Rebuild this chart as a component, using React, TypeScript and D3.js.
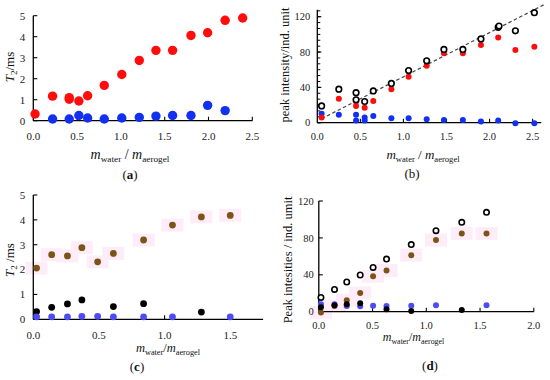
import React from 'react';
import * as d3 from 'd3';

// ---------- Data ----------
// (a) T2 vs mass ratio
const A_RED_X = [0.02, 0.22, 0.41, 0.41, 0.52, 0.62, 0.81, 1.01, 1.21, 1.40, 1.59, 1.80, 1.99, 2.19, 2.39];
const A_RED_Y = [0.32, 1.17, 1.10, 1.02, 0.94, 1.19, 1.68, 2.20, 2.87, 3.35, 3.35, 4.06, 4.19, 4.78, 4.89];
const A_BLUE_X = [0.22, 0.41, 0.52, 0.62, 0.81, 1.01, 1.21, 1.40, 1.59, 1.80, 1.99, 2.19];
const A_BLUE_Y = [0.08, 0.08, 0.25, 0.13, 0.08, 0.13, 0.16, 0.22, 0.25, 0.25, 0.73, 0.48];
const A_X_TICKS = [0, 0.5, 1.0, 1.5, 2.0, 2.5];
const A_Y_TICKS = [0, 1, 2, 3, 4, 5];

// (b) peak intensity vs mass ratio
const B_OPEN_X = [0.05, 0.25, 0.45, 0.45, 0.55, 0.65, 0.86, 1.06, 1.27, 1.47, 1.69, 1.90, 2.10, 2.11, 2.30, 2.52];
const B_OPEN_Y = [19, 38, 34, 26, 24, 36, 44.5, 59, 70, 83, 83, 94.8, 108, 109.5, 104, 124.6];
const B_RED_X = [0.05, 0.25, 0.45, 0.45, 0.55, 0.65, 0.86, 1.06, 1.27, 1.47, 1.69, 1.90, 2.10, 2.30, 2.52];
const B_RED_Y = [6, 27, 24, 19, 17, 24.5, 38, 52, 64.5, 78.5, 78.5, 88, 96.5, 82.3, 86];
const B_BLUE_X = [0.05, 0.25, 0.45, 0.45, 0.55, 0.55, 0.65, 0.86, 1.06, 1.27, 1.47, 1.69, 1.90, 2.10, 2.30, 2.52];
const B_BLUE_Y = [10, 9, 9, 2.5, 6, 2.5, 7.5, 5, 5, 4, 3, 3, 1.5, 2.5, -0.5, -0.5];
const B_FIT_X = [0.05, 2.63];
const B_FIT_SLOPE = 50;
const B_FIT_INTERCEPT = 2;
const B_X_TICKS = [0, 0.5, 1.0, 1.5, 2.0, 2.5];
const B_Y_TICKS = [0, 40, 80, 120];

// (c) T2 vs mass ratio
const C_BROWN_X = [0.025, 0.14, 0.26, 0.37, 0.49, 0.61, 0.84, 1.06, 1.28, 1.50];
const C_BROWN_Y = [2.06, 2.6, 2.55, 2.88, 2.31, 2.65, 3.19, 3.79, 4.12, 4.18];
const C_BLACK_X = [0.025, 0.14, 0.26, 0.37, 0.61, 0.84, 1.28];
const C_BLACK_Y = [0.31, 0.48, 0.62, 0.78, 0.51, 0.63, 0.29];
const C_BLUE_X = [0.025, 0.14, 0.26, 0.37, 0.49, 0.61, 0.84, 1.06, 1.50];
const C_BLUE_Y = [0.1, 0.1, 0.1, 0.12, 0.12, 0.1, 0.1, 0.1, 0.1];
const C_X_TICKS = [0, 0.5, 1.0, 1.5];
const C_Y_TICKS = [0, 1, 2, 3, 4, 5];

// (d) peak intensities vs mass ratio
const D_X = [0.02, 0.146, 0.26, 0.385, 0.505, 0.63, 0.86, 1.09, 1.33, 1.56];
const D_OPEN_Y = [15.5, 24.2, 32.2, 39.8, 48, 57, 72.8, 87.8, 96.9, 107.7];
const D_BROWN_Y = [-0.8, 6.2, 12.5, 20.4, 38.3, 44.7, 61.3, 77.7, 84.9, 84.9];
const D_BLUE_X = [0.02, 0.146, 0.26, 0.385, 0.505, 0.63, 0.86, 1.09, 1.56];
const D_BLUE_Y = [8, 8, 6.2, 5.9, 6.5, 6.2, 6.5, 6.9, 6.9];
const D_BLACK_X = [0.02, 0.146, 0.26, 0.385, 0.63, 0.86, 1.33];
const D_BLACK_Y = [4.8, 7, 8, 9.1, 2.6, 0.8, 1.8];
const D_X_TICKS = [0, 0.5, 1.0, 1.5, 2.0];
const D_Y_TICKS = [0, 40, 80, 120];

// ---------- Styles ----------
const FONT = '"Liberation Serif", "Times New Roman", serif';
const RED = '#ff0d0d';
const BLUE = '#1230f2';
const BLUE2 = '#4c4cf6';
const BROWN = '#7d5418';
const PINK = '#feedf9';

type Series = {
  x: number[];
  y: number[];
  kind: 'filled' | 'open';
  color: string;
  r: number;
  halo?: boolean;
};

type PanelCfg = {
  xDomain: [number, number];
  xRange: [number, number];
  yDomain: [number, number];
  yRange: [number, number];
  xTicks: number[];
  yTicks: number[];
  yMinorStep?: number;
  xFmt: (v: number) => string;
  yFmt: (v: number) => string;
  tickFont: number;
  yLabelGap: number;
  xLabelBase: number;
  series: Series[];
  fit?: { x: number[]; slope: number; intercept: number };
};

function Panel({ cfg }: { cfg: PanelCfg }) {
  const x = d3.scaleLinear().domain(cfg.xDomain).range(cfg.xRange);
  const y = d3.scaleLinear().domain(cfg.yDomain).range(cfg.yRange);
  const x0 = x(cfg.xDomain[0]);
  const y0 = y(0);
  const yTop = y(cfg.yDomain[1]);
  const xEnd = x(cfg.xDomain[1]);
  const minor: number[] = [];
  if (cfg.yMinorStep) {
    for (let v = 0; v <= cfg.yDomain[1] + 1e-6; v += cfg.yMinorStep) minor.push(v);
  }
  const line = d3
    .line<number>()
    .x((d) => x(d))
    .y((d) => y(cfg.fit ? cfg.fit.slope * d + cfg.fit.intercept : 0));
  return (
    <g>
      {cfg.series
        .filter((s) => s.halo)
        .map((s, si) =>
          s.x.map((xv, i) => (
            <rect
              key={`h${si}-${i}`}
              x={x(xv) - 11}
              y={y(s.y[i]) - 6.5}
              width={22}
              height={13}
              fill={PINK}
            />
          ))
        )}
      <line x1={x0} x2={x0} y1={y0} y2={yTop} stroke="#000" strokeWidth={1.3} />
      <line x1={x0} x2={xEnd} y1={y0} y2={y0} stroke="#000" strokeWidth={1.3} />
      {minor.map((v, i) => (
        <line key={`m${i}`} x1={x0} x2={x0 + 3} y1={y(v)} y2={y(v)} stroke="#000" strokeWidth={1} />
      ))}
      {cfg.yTicks.map((v) => (
        <g key={`yt${v}`}>
          <line x1={x0} x2={x0 + 4} y1={y(v)} y2={y(v)} stroke="#000" strokeWidth={1.1} />
          <text
            x={x0 - cfg.yLabelGap}
            y={y(v)}
            dy="0.35em"
            textAnchor="end"
            fontSize={cfg.tickFont}
            fontFamily={FONT}
            fill="#222"
          >
            {cfg.yFmt(v)}
          </text>
        </g>
      ))}
      {cfg.xTicks.map((v) => (
        <g key={`xt${v}`}>
          {v !== 0 && (
            <line x1={x(v)} x2={x(v)} y1={y0} y2={y0 - 4} stroke="#000" strokeWidth={1.1} />
          )}
          <text
            x={x(v)}
            y={cfg.xLabelBase}
            textAnchor="middle"
            fontSize={cfg.tickFont}
            fontFamily={FONT}
            fill="#222"
          >
            {cfg.xFmt(v)}
          </text>
        </g>
      ))}
      {cfg.fit && (
        <path
          d={line(cfg.fit.x) || ''}
          fill="none"
          stroke="#444"
          strokeWidth={1.2}
          strokeDasharray="3.5,2.5"
        />
      )}
      {cfg.series.map((s, si) =>
        s.x.map((xv, i) =>
          s.kind === 'filled' ? (
            <circle key={`p${si}-${i}`} cx={x(xv)} cy={y(s.y[i])} r={s.r} fill={s.color} />
          ) : (
            <circle
              key={`p${si}-${i}`}
              cx={x(xv)}
              cy={y(s.y[i])}
              r={s.r}
              fill="#fff"
              stroke={s.color}
              strokeWidth={1.6}
            />
          )
        )
      )}
    </g>
  );
}

function Ratio({ cx, y, spaced, size }: { cx: number; y: number; spaced: boolean; size: number }) {
  const sub = size * 0.66;
  return (
    <text x={cx} y={y} textAnchor="middle" fontFamily={FONT} fontSize={size} fill="#111">
      <tspan fontStyle="italic">m</tspan>
      <tspan fontSize={sub} dy={3}>water</tspan>
      <tspan dy={-3}>{spaced ? ' / ' : '/'}</tspan>
      <tspan fontStyle="italic">m</tspan>
      <tspan fontSize={sub} dy={3}>aerogel</tspan>
    </text>
  );
}

function T2Label({ x, y, spaced }: { x: number; y: number; spaced: boolean }) {
  return (
    <text
      transform={`translate(${x},${y}) rotate(-90)`}
      textAnchor="middle"
      fontFamily={FONT}
      fontSize={13}
      fill="#111"
    >
      <tspan fontStyle="italic">T</tspan>
      <tspan fontSize={9} dy={3}>2</tspan>
      <tspan dy={-3}>{spaced ? ' /ms' : '/ms'}</tspan>
    </text>
  );
}

function PanelTag({ x, y, letter, bold }: { x: number; y: number; letter: string; bold: boolean }) {
  return (
    <text x={x} y={y} textAnchor="middle" fontFamily={FONT} fontSize={13} fill="#111">
      (<tspan fontWeight={bold ? 'bold' : 'normal'}>{letter}</tspan>)
    </text>
  );
}

const f1 = d3.format('.1f');
const fd = d3.format('d');

export default function App() {
  const panelA: PanelCfg = {
    xDomain: [0, 2.5],
    xRange: [33.3, 252.3],
    yDomain: [0, 5],
    yRange: [120.7, 15.7],
    xTicks: A_X_TICKS,
    yTicks: A_Y_TICKS,
    xFmt: f1,
    yFmt: fd,
    tickFont: 11,
    yLabelGap: 8,
    xLabelBase: 140,
    series: [
      { x: A_RED_X, y: A_RED_Y, kind: 'filled', color: RED, r: 4.7 },
      { x: A_BLUE_X, y: A_BLUE_Y, kind: 'filled', color: BLUE, r: 4.7 },
    ],
  };
  const panelB: PanelCfg = {
    xDomain: [0, 2.6],
    xRange: [317.3, 317.3 + 2.6 * 86.13],
    yDomain: [0, 128],
    yRange: [122.7, 122.7 - 128 * 0.8833],
    xTicks: B_X_TICKS,
    yTicks: B_Y_TICKS,
    yMinorStep: 20 / 3,
    xFmt: f1,
    yFmt: fd,
    tickFont: 10.5,
    yLabelGap: 7,
    xLabelBase: 140,
    fit: { x: B_FIT_X, slope: B_FIT_SLOPE, intercept: B_FIT_INTERCEPT },
    series: [
      { x: B_BLUE_X, y: B_BLUE_Y, kind: 'filled', color: BLUE, r: 3 },
      { x: B_RED_X, y: B_RED_Y, kind: 'filled', color: RED, r: 3 },
      { x: B_OPEN_X, y: B_OPEN_Y, kind: 'open', color: '#000', r: 2.8 },
    ],
  };
  const panelC: PanelCfg = {
    xDomain: [0, 1.75],
    xRange: [33.3, 33.3 + 1.75 * 131.3],
    yDomain: [0, 5],
    yRange: [319.3, 195],
    xTicks: C_X_TICKS,
    yTicks: C_Y_TICKS,
    xFmt: f1,
    yFmt: fd,
    tickFont: 11,
    yLabelGap: 8,
    xLabelBase: 338.5,
    series: [
      { x: C_BROWN_X, y: C_BROWN_Y, kind: 'filled', color: BROWN, r: 3.4, halo: true },
      { x: C_BLACK_X, y: C_BLACK_Y, kind: 'filled', color: '#000', r: 3.4 },
      { x: C_BLUE_X, y: C_BLUE_Y, kind: 'filled', color: BLUE2, r: 3.4 },
    ],
  };
  const panelD: PanelCfg = {
    xDomain: [0, 2.0],
    xRange: [318.8, 533.8],
    yDomain: [0, 120],
    yRange: [311.7, 201],
    xTicks: D_X_TICKS,
    yTicks: D_Y_TICKS,
    xFmt: f1,
    yFmt: fd,
    tickFont: 10.5,
    yLabelGap: 5,
    xLabelBase: 329,
    series: [
      { x: D_X, y: D_BROWN_Y, kind: 'filled', color: BROWN, r: 3, halo: true },
      { x: D_BLUE_X, y: D_BLUE_Y, kind: 'filled', color: BLUE2, r: 3 },
      { x: D_BLACK_X, y: D_BLACK_Y, kind: 'filled', color: '#000', r: 3 },
      { x: D_X, y: D_OPEN_Y, kind: 'open', color: '#000', r: 2.7 },
    ],
  };

  return (
    <svg
      width={550}
      height={380}
      viewBox="0 0 550 380"
      style={{ position: 'absolute', left: 0, top: 0, background: '#fff' }}
    >
      <rect x={0} y={0} width={550} height={380} fill="#fff" />
      <Panel cfg={panelA} />
      <Panel cfg={panelB} />
      <Panel cfg={panelC} />
      <Panel cfg={panelD} />

      <T2Label x={14} y={67} spaced={false} />
      <T2Label x={14} y={260} spaced={true} />
      <text
        transform="translate(289,65) rotate(-90)"
        textAnchor="middle"
        fontFamily={FONT}
        fontSize={12.5}
        fill="#111"
      >
        peak intensity/ind. unit
      </text>
      <text
        transform="translate(292,260) rotate(-90)"
        textAnchor="middle"
        fontFamily={FONT}
        fontSize={12.5}
        fill="#111"
      >
        Peak intesities / ind. umit
      </text>

      <Ratio cx={130} y={159} spaced={true} size={14} />
      <Ratio cx={423} y={158.5} spaced={true} size={13} />
      <Ratio cx={168} y={352} spaced={false} size={12.5} />
      <Ratio cx={413.5} y={341} spaced={false} size={12} />

      <PanelTag x={130} y={179} letter="a" bold={true} />
      <PanelTag x={412} y={178} letter="b" bold={false} />
      <PanelTag x={137} y={371} letter="c" bold={true} />
      <PanelTag x={430} y={370} letter="d" bold={true} />
    </svg>
  );
}
